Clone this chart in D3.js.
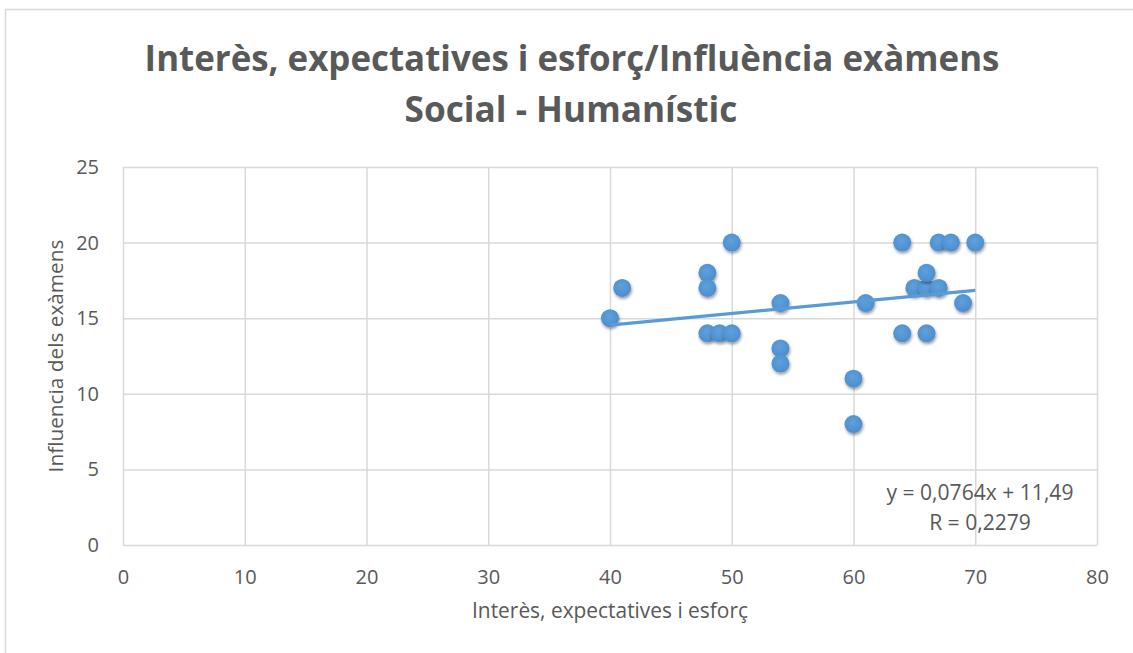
<!DOCTYPE html>
<html>
<head>
<meta charset="utf-8">
<script src="https://cdn.jsdelivr.net/npm/d3@7"></script>
<style>
  html, body { margin: 0; padding: 0; background: #fff; }
  svg { display: block; }
  text { font-family: "Open Sans", "Noto Sans", sans-serif; fill: #595959; }
</style>
</head>
<body>
<svg id="chart" width="1133" height="653"></svg>
<script>
// ---- Data ----
const interes   = [40, 41, 48, 48, 48, 49, 50, 50, 54, 54, 54, 60, 60, 61, 64, 64, 65, 66, 66, 67, 66, 67, 68, 70, 69];
const influencia = [15, 17, 18, 17, 14, 14, 14, 20, 16, 13, 12, 11, 8, 16, 20, 14, 17, 17, 18, 17, 14, 20, 20, 20, 16];
const xTicks = [0, 10, 20, 30, 40, 50, 60, 70, 80];
const yTicks = [0, 5, 10, 15, 20, 25];
const trendCoef = [0.0764, 11.49]; // slope, intercept
const titleLines = ["Interès, expectatives i esforç/Influència exàmens", "Social - Humanístic"];
const xTitle = "Interès, expectatives i esforç";
const yTitle = "Influencia dels exàmens";
const eqLines = ["y = 0,0764x + 11,49", "R = 0,2279"];

const svg = d3.select("#chart");
const W = 1133, H = 653;
const plot = { left: 123, right: 1097, top: 167, bottom: 545 };

const x = d3.scaleLinear().domain([0, 80]).range([plot.left, plot.right]);
const y = d3.scaleLinear().domain([0, 25]).range([plot.bottom, plot.top]);

function fit(sel, target) {
  const w = sel.node().getComputedTextLength();
  const fs = parseFloat(sel.attr("font-size"));
  sel.attr("font-size", (fs * target / w).toFixed(2));
}

// outer frame
svg.append("rect").attr("x", 5.5).attr("y", 9.5).attr("width", W + 20).attr("height", H + 20)
  .attr("fill", "#fff").attr("stroke", "#d9d9d9").attr("stroke-width", 1.5);

// defs
const defs = svg.append("defs");
const grad = defs.append("radialGradient").attr("id", "mk").attr("cx", "45%").attr("cy", "40%").attr("r", "65%");
grad.append("stop").attr("offset", "0%").attr("stop-color", "#5fa0dc");
grad.append("stop").attr("offset", "100%").attr("stop-color", "#4a8ccd");
const flt = defs.append("filter").attr("id", "sh").attr("x", "-50%").attr("y", "-50%").attr("width", "200%").attr("height", "200%");
flt.append("feDropShadow").attr("dx", 0.8).attr("dy", 2).attr("stdDeviation", 1.5)
  .attr("flood-color", "#000").attr("flood-opacity", 0.4);

// grid + x axis
const gx = svg.append("g").attr("transform", `translate(0,${plot.bottom})`)
  .call(d3.axisBottom(x).tickValues(xTicks).tickSize(-(plot.bottom - plot.top)).tickFormat(d3.format("d")));
gx.select(".domain").remove();
gx.selectAll("line").attr("stroke", "#d9d9d9").attr("stroke-width", 1.5);
gx.selectAll("text").attr("font-size", 20).attr("fill", "#595959").attr("font-family", null)
  .attr("y", 39).attr("dy", 0);

// grid + y axis
const gy = svg.append("g").attr("transform", `translate(${plot.left},0)`)
  .call(d3.axisLeft(y).tickValues(yTicks).tickSize(-(plot.right - plot.left)).tickPadding(24).tickFormat(d3.format("d")));
gy.select(".domain").remove();
gy.selectAll("line").attr("stroke", "#d9d9d9").attr("stroke-width", 1.5);
gy.selectAll("text").attr("font-size", 20).attr("fill", "#595959").attr("font-family", null);

// points
const pts = d3.range(interes.length).map(i => ({ x: interes[i], y: influencia[i] }));
svg.append("g").selectAll("circle").data(pts).join("circle")
  .attr("cx", d => x(d.x)).attr("cy", d => y(d.y)).attr("r", 9)
  .attr("fill", "url(#mk)").attr("filter", "url(#sh)");

// trendline
const xr = d3.extent(interes);
svg.append("line")
  .attr("x1", x(xr[0])).attr("y1", y(trendCoef[0] * xr[0] + trendCoef[1]))
  .attr("x2", x(xr[1])).attr("y2", y(trendCoef[0] * xr[1] + trendCoef[1]))
  .attr("stroke", "#5b9bd5").attr("stroke-width", 3.2).attr("stroke-linecap", "butt");

// title
const t1 = svg.append("text").attr("x", 572).attr("y", 71).attr("text-anchor", "middle")
  .attr("font-size", 36).attr("font-weight", "bold").text(titleLines[0]);
fit(t1, 855);
const t2 = svg.append("text").attr("x", 571).attr("y", 122).attr("text-anchor", "middle")
  .attr("font-size", 36).attr("font-weight", "bold").text(titleLines[1]);
fit(t2, 333);

// axis titles
const xt = svg.append("text").attr("x", 610).attr("y", 618).attr("text-anchor", "middle")
  .attr("font-size", 17).text(xTitle);
fit(xt, 276);
const yt = svg.append("text").attr("transform", `translate(63,356) rotate(-90)`).attr("text-anchor", "middle")
  .attr("font-size", 17).text(yTitle);
fit(yt, 233);

// equation
const e1 = svg.append("text").attr("x", 980).attr("y", 500).attr("text-anchor", "middle")
  .attr("font-size", 18).text(eqLines[0]);
fit(e1, 187);
svg.append("text").attr("x", 980).attr("y", 530).attr("text-anchor", "middle")
  .attr("font-size", e1.attr("font-size")).text(eqLines[1]);
</script>
</body>
</html>
